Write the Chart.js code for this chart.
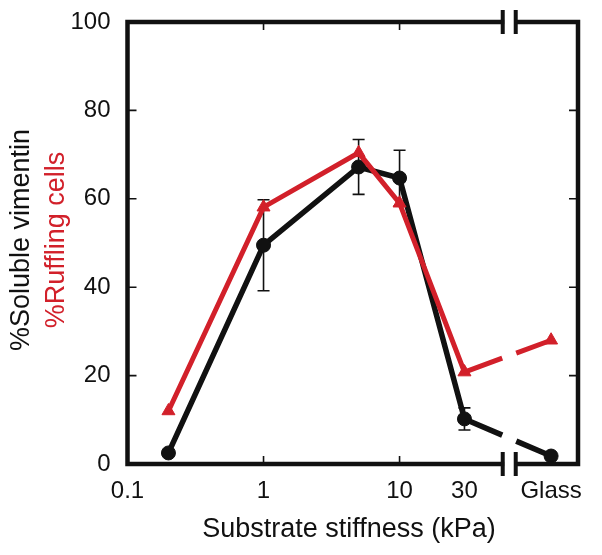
<!DOCTYPE html>
<html>
<head>
<meta charset="utf-8">
<script src="https://cdn.jsdelivr.net/npm/chart.js@4/dist/chart.umd.min.js"></script>
<style>
  html, body { margin: 0; padding: 0; background: #fff; }
  #wrap { width: 602px; height: 555px; }
</style>
</head>
<body>
<div id="wrap"><canvas id="chart" width="602" height="555"></canvas></div>
<script>
// stiffness in kPa; glass is put on the far side of the axis break
const categories = ["0.2", "1", "5", "10", "30", "Glass"];
const stiffness = [0.2, 1, 5, 10, 30, 130];
const solubleVimentin = [2.5, 49.5, 67.2, 64.7, 10.2, 1.8];
const vimentinError = [0, 10.3, 6.2, 6.3, 2.5, 0];
const rufflingCells = [12, 58.1, 70.4, 59, 20.8, 28];

const yTicks = [0, 20, 40, 60, 80, 100];
const xTickValues = [0.1, 1, 10, 30, 130];
const xTickLabels = ["0.1", "1", "10", "30", "Glass"];
const breakAt = 64;

const FONT = "'Liberation Sans', Arial, sans-serif";
const RED = "#d2202a";
const INK = "#111";

// leave a hole in the last segment where the axis is broken
function breakDash(ctx) {
    if (ctx.p0DataIndex !== 4) return undefined;
    const bx = ctx.chart.scales.x.getPixelForValue(breakAt);
    const p0 = ctx.p0, p1 = ctx.p1;
    const dx = p1.x - p0.x, len = Math.hypot(dx, p1.y - p0.y);
    const a = (bx - 7 - p0.x) / dx * len;
    const g = 14 / dx * len;
    return [a, g, len];
}

const frame = {
    id: "frame",
    beforeDatasetsDraw(chart) {
        const c = chart.ctx, x = chart.scales.x, y = chart.scales.y;
        c.save();
        c.strokeStyle = INK;
        c.lineWidth = 1.6;
        vimentinError.forEach((e, i) => {
            if (!e) return;
            const px = x.getPixelForValue(stiffness[i]);
            const top = y.getPixelForValue(solubleVimentin[i] + e);
            const bot = y.getPixelForValue(solubleVimentin[i] - e);
            c.beginPath();
            c.moveTo(px, top); c.lineTo(px, bot);
            c.moveTo(px - 6, top); c.lineTo(px + 6, top);
            c.moveTo(px - 6, bot); c.lineTo(px + 6, bot);
            c.stroke();
        });
        c.restore();
    },
    afterDraw(chart) {
        const c = chart.ctx, a = chart.chartArea, x = chart.scales.x, y = chart.scales.y;
        c.save();
        // inward tick marks
        c.strokeStyle = INK;
        c.lineWidth = 1.6;
        c.beginPath();
        yTicks.slice(1, -1).forEach(v => {
            const py = y.getPixelForValue(v);
            c.moveTo(a.left, py); c.lineTo(a.left + 9, py);
            c.moveTo(a.right, py); c.lineTo(a.right - 9, py);
        });
        [1, 10].forEach(v => {
            const px = x.getPixelForValue(v);
            c.moveTo(px, a.bottom); c.lineTo(px, a.bottom - 8);
            c.moveTo(px, a.top); c.lineTo(px, a.top + 8);
        });
        c.stroke();

        // box
        c.lineWidth = 4.5;
        c.strokeRect(a.left, a.top, a.right - a.left, a.bottom - a.top);

        // axis break
        const bx = x.getPixelForValue(breakAt);
        [a.top, a.bottom].forEach(py => {
            c.fillStyle = "#fff";
            c.fillRect(bx - 5, py - 4, 10, 8);
            c.fillStyle = INK;
            c.fillRect(bx - 8.5, py - 12, 4, 24);
            c.fillRect(bx + 4.5, py - 12, 4, 24);
        });

        // axis titles
        c.font = "27px " + FONT;
        c.textAlign = "center";
        c.textBaseline = "middle";
        c.fillStyle = INK;
        c.fillText("Substrate stiffness (kPa)", 349, 530);
        c.translate(0, 240);
        c.rotate(-Math.PI / 2);
        c.fillText("%Soluble vimentin", 0, 22);
        c.fillStyle = RED;
        c.fillText("%Ruffling cells", 0, 57);
        c.restore();
    }
};

new Chart(document.getElementById("chart"), {
    type: "line",
    data: {
        labels: categories,
        datasets: [
            {
                label: "%Ruffling cells",
                data: stiffness.map((s, i) => ({ x: s, y: rufflingCells[i] })),
                borderColor: RED,
                backgroundColor: RED,
                borderWidth: 5,
                pointStyle: "triangle",
                pointRadius: 7.5,
                pointBorderWidth: 1,
                segment: { borderDash: breakDash },
                order: 0
            },
            {
                label: "%Soluble vimentin",
                data: stiffness.map((s, i) => ({ x: s, y: solubleVimentin[i] })),
                borderColor: INK,
                backgroundColor: INK,
                borderWidth: 5.5,
                pointStyle: "circle",
                pointRadius: 7,
                pointBorderWidth: 1,
                segment: { borderDash: breakDash },
                order: 1
            }
        ]
    },
    options: {
        responsive: false,
        animation: false,
        layout: { padding: { top: 22, right: 24, left: 0, bottom: 0 } },
        plugins: { legend: { display: false }, tooltip: { enabled: false } },
        scales: {
            x: {
                type: "logarithmic",
                min: 0.1,
                max: 205,
                afterBuildTicks: s => { s.ticks = xTickValues.map(v => ({ value: v })); },
                afterFit: s => { s.height = 91; s.paddingLeft = 0; s.paddingRight = 0; },
                grid: { display: false },
                border: { display: false },
                ticks: {
                    autoSkip: false,
                    maxRotation: 0,
                    minRotation: 0,
                    padding: 5,
                    color: INK,
                    font: { family: FONT, size: 24 },
                    callback: v => xTickLabels[xTickValues.indexOf(v)]
                }
            },
            y: {
                min: 0,
                max: 100,
                afterBuildTicks: s => { s.ticks = yTicks.map(v => ({ value: v })); },
                afterFit: s => { s.width = 127.5; s.paddingTop = 0; s.paddingBottom = 0; },
                grid: { display: false },
                border: { display: false },
                ticks: {
                    padding: 9,
                    color: INK,
                    font: { family: FONT, size: 24 }
                }
            }
        }
    },
    plugins: [frame]
});
</script>
</body>
</html>
